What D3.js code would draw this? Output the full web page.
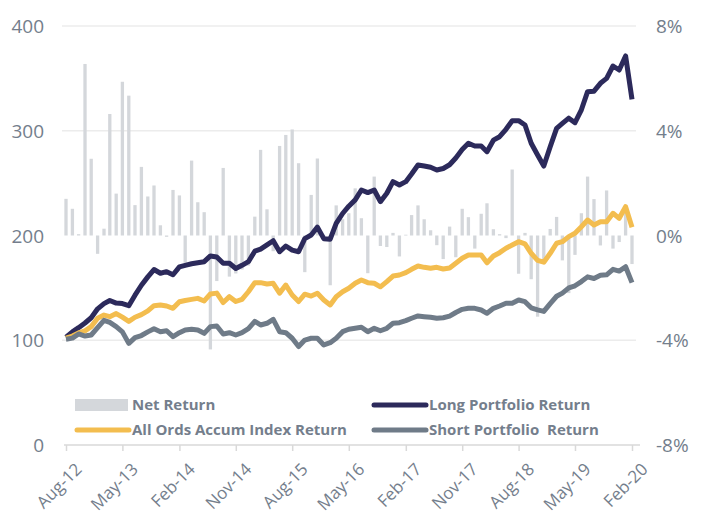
<!DOCTYPE html>
<html>
<head>
<meta charset="utf-8">
<script src="https://cdn.jsdelivr.net/npm/d3@7"></script>
<style>
  body { margin: 0; background: #fff; }
  svg { font-family: "Open Sans", sans-serif; }
</style>
</head>
<body>
<div class="chart"></div>
<script>
// monthly categories Aug-12 .. Feb-20
const months = d3.timeMonth.range(new Date(2012, 7, 1), new Date(2020, 2, 1))
const xTicks = d3.range(0, 91, 9).map(i => months[i])
const leftTicks = [0, 100, 200, 300, 400]
const rightTicks = [-8, -4, 0, 4, 8]

// net return (%), right axis
const netReturn = [1.40, 1.02, 0.05, 6.55, 2.93, -0.70, 0.26, 4.64, 1.60, 5.87,
  5.34, 1.16, 2.62, 1.49, 1.91, 0.39, -0.05, 1.74, 1.53, -1.04,
  2.86, 1.27, 0.89, -4.35, -1.74, 2.58, -1.57, -1.45, -1.30, -1.15,
  0.72, 3.27, 1.00, -0.60, 3.42, 3.84, 4.05, 2.76, -1.40, 1.55,
  2.94, 0.02, -1.90, 1.15, 0.62, 0.85, 1.80, 0.66, -1.44, 2.25,
  -0.40, -0.44, 0.10, -0.80, 0.03, 0.78, 1.15, 0.62, 0.20, -0.37,
  -0.90, 0.34, -0.83, 1.02, 0.70, -0.50, 0.83, 1.23, 0.24, 0.05,
  -0.10, 2.52, -1.46, 0.10, -1.67, -3.10, -1.00, 0.25, 0.71, -0.95,
  -2.20, -0.74, 0.85, 2.25, 1.39, -0.38, 1.72, -0.50, -0.25, 1.10, -1.09]

// cumulative returns, left axis
const longReturn = [103, 108, 112, 116.5, 121.5, 130, 135, 138, 135.5, 135,
  133, 143, 152.5, 160.5, 167.5, 164, 165.5, 162.5, 170, 171.5,
  173, 174, 175, 180.5, 179.5, 173.5, 173.5, 168.5, 171.5, 175,
  185, 187, 191, 195, 184.5, 190, 186, 184.5, 197, 200.5,
  208, 197, 196.5, 211.5, 221, 228, 234, 243.4, 241, 243.4,
  232.3, 240.3, 251.4, 248.2, 251.4, 258.7, 267.3, 266.3, 265.1, 262.5,
  264, 267.5, 274, 282, 288, 285.5, 285.4, 280, 291, 294.3,
  301.4, 309.6, 309.6, 305.5, 288, 276.8, 266.3, 284.8, 302.3, 307,
  312, 307.7, 320, 337.3, 337.8, 345.3, 350, 361.8, 358, 371.4, 330]

const allOrds = [102, 104, 107, 109, 113, 121, 124, 122.5, 125.5, 122,
  118, 122, 124.5, 128, 133, 133.7, 132.7, 130.5, 136.8, 138,
  139, 140, 137.5, 144.2, 145, 136, 141.6, 137, 139.1, 146.3,
  155, 155, 153.7, 154.4, 145, 152.7, 143.2, 137, 144, 142.2,
  144.8, 138.4, 133.7, 141.6, 146.3, 149.6, 154.4, 157.5, 155, 154.4,
  151, 156, 161.3, 162.3, 164.5, 167.7, 170.9, 169.6, 168.7, 169.6,
  168, 169, 173.5, 178.3, 181.4, 181.4, 181.4, 174, 180.4, 183.6,
  187.8, 190.9, 194.1, 192, 183, 176.3, 174.5, 183, 192.6, 194.1,
  198.9, 202.1, 208.4, 214.8, 210, 213.2, 213.2, 221.2, 216.4, 227.5, 207.8]

const shortReturn = [101, 102, 106, 104, 105, 112, 119, 117, 113, 108,
  97, 102.5, 104.5, 108, 111, 108.2, 109.1, 103.4, 107.2, 109.8,
  110.4, 109.8, 106.6, 113, 113.6, 106, 107.2, 105, 107.2, 111,
  118, 114.6, 116.2, 120, 108.2, 107.2, 101.9, 94, 100.2, 101.9,
  101.9, 95.5, 97.7, 101.9, 108.2, 110.5, 111.4, 112.4, 108.2, 111.4,
  109.1, 111.4, 116.2, 116.8, 118.7, 121, 123.2, 122.5, 121.9, 121,
  121.5, 123, 126.5, 129.5, 130.5, 130.5, 128.9, 125.7, 130.5, 132.7,
  135.3, 135.3, 138.4, 136.8, 131, 129, 127.5, 135, 142, 145,
  150, 152, 156, 160.5, 159, 162, 162.5, 167.7, 166, 170.2, 155]

const seriesNames = ["Net Return", "Long Portfolio Return", "All Ords Accum Index Return", "Short Portfolio  Return"]
const colours = ["#d4d7db", "#2c2a5b", "#f3bd4f", "#6f7b88"]

const width = 707, height = 515
const textColour = "#747e8c"

const svg = d3.select(".chart").append("svg").attr("width", width).attr("height", height)

const x = d3.scaleTime().domain([months[0], months[90]]).range([66, 632])
const yL = d3.scaleLinear().domain([0, 400]).range([445, 26])
const yR = d3.scaleLinear().domain([-8, 8]).range([445, 26])

// gridlines
svg.append("g").selectAll("line").data([100, 300, 400]).enter().append("line")
   .attr("x1", 62).attr("x2", 636).attr("y1", d => yL(d)).attr("y2", d => yL(d))
   .attr("stroke", "#ececec").attr("stroke-width", 1.3)

// bars
const barW = 3.3
svg.append("g").selectAll("rect").data(netReturn).enter().append("rect")
   .attr("x", (d, i) => x(months[i]) - barW / 2)
   .attr("y", d => yR(Math.max(0, d)))
   .attr("width", barW)
   .attr("height", d => Math.abs(yR(d) - yR(0)))
   .attr("fill", colours[0])

// lines
const line = d3.line().x((d, i) => x(months[i])).y(d => yL(d))
const lineData = [longReturn, allOrds, shortReturn]
lineData.forEach((s, k) => {
  svg.append("path").attr("d", line(s)).attr("fill", "none")
     .attr("stroke", colours[k + 1]).attr("stroke-width", 5)
     .attr("stroke-linejoin", "round").attr("stroke-linecap", "butt")
})

// left axis
const leftAxis = svg.append("g").attr("transform", "translate(50,0)")
   .call(d3.axisLeft(yL).tickValues(leftTicks).tickSize(0).tickPadding(6))
leftAxis.select(".domain").remove()
leftAxis.selectAll("text").attr("fill", textColour).style("font-size", "19px")
        .style("font-family", "Open Sans").attr("dy", "0.35em")

// right axis
const rightAxis = svg.append("g").attr("transform", "translate(652,0)")
   .call(d3.axisRight(yR).tickValues(rightTicks).tickSize(0).tickPadding(4)
         .tickFormat(d => d + "%"))
rightAxis.select(".domain").remove()
rightAxis.selectAll("text").attr("fill", textColour).style("font-size", "19px")
         .style("font-family", "Open Sans").attr("dy", "0.35em")

// bottom axis
const bottomAxis = svg.append("g").attr("transform", "translate(0,445)")
   .call(d3.axisBottom(x).tickValues(xTicks).tickSize(6).tickPadding(4)
         .tickFormat(d3.timeFormat("%b-%y")))
bottomAxis.select(".domain").attr("stroke", "#d9d9d9").attr("stroke-width", 1.5)
          .attr("d", "M64,0H640")
bottomAxis.selectAll(".tick line").attr("stroke", "#d9d9d9").attr("stroke-width", 1.5)
bottomAxis.selectAll("text").attr("fill", textColour).style("font-size", "17px")
          .style("font-family", "Open Sans")
          .attr("text-anchor", "end").attr("dy", "0.35em")
          .attr("transform", "translate(5,14) rotate(-45)")

// legend
const legendPos = [[75, 405], [372, 405], [75, 430], [372, 430]]
const legend = svg.selectAll(".legend").data(seriesNames).enter().append("g")
   .attr("class", "legend").attr("transform", (d, i) => `translate(${legendPos[i][0]},${legendPos[i][1]})`)
legend.each(function(d, i) {
  const g = d3.select(this)
  if (i == 0) {
    g.append("rect").attr("x", 0).attr("y", -6).attr("width", 53).attr("height", 12).attr("fill", colours[0])
  } else {
    g.append("line").attr("x1", 2).attr("x2", 54).attr("y1", 0).attr("y2", 0)
     .attr("stroke", colours[i]).attr("stroke-width", 5).attr("stroke-linecap", "round")
  }
})
legend.append("text").attr("x", 57).attr("y", 0).attr("dy", "0.35em").text(d => d)
   .attr("fill", textColour).style("font-size", "15px").style("font-weight", "bold")
   .style("font-family", "Open Sans").style("white-space", "pre")
</script>
</body>
</html>
